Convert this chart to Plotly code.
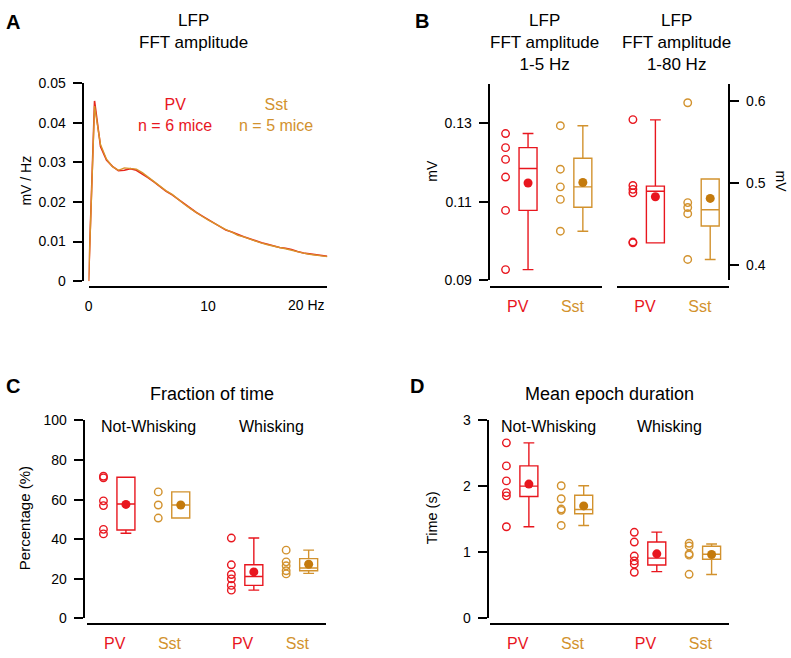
import plotly.graph_objects as go

W, H = 791, 658
FONT = "Liberation Sans, Arial, sans-serif"
RED = "#E8161E"
GOLD = "#D2922E"
GOLD_DARK = "#C47A0C"
LINE_PV = "#E6261C"
LINE_SST = "#D9922A"

# ---------------- Panel A data: LFP FFT amplitude spectrum ----------------
freq_hz = [0, 0.5, 1.0, 1.5, 2.0, 2.5, 3.0, 3.5, 4.0, 4.5, 5.0, 5.5, 6.0, 6.5, 7.0,
           7.5, 8.0, 8.5, 9.0, 9.5, 10.0, 10.5, 11.0, 11.5, 12.0, 12.5, 13.0, 13.5,
           14.0, 14.5, 15.0, 15.5, 16.0, 16.5, 17.0, 17.5, 18.0, 18.5, 19.0, 19.5, 20.0]
fft_pv = [0, 0.0455, 0.0340, 0.0306, 0.0290, 0.0279, 0.0280, 0.0284, 0.0280, 0.0271,
          0.0261, 0.0250, 0.0238, 0.0227, 0.0218, 0.0207, 0.0194, 0.0185, 0.0174,
          0.0165, 0.0156, 0.0147, 0.0138, 0.0129, 0.0124, 0.0117, 0.0112, 0.0107,
          0.0101, 0.0097, 0.0093, 0.0089, 0.0085, 0.0083, 0.0080, 0.0075, 0.0071,
          0.0069, 0.0067, 0.0065, 0.0063]
fft_sst = [0, 0.0442, 0.0345, 0.0308, 0.0289, 0.0280, 0.0286, 0.0284, 0.0283, 0.0274,
           0.0262, 0.0251, 0.0240, 0.0228, 0.0219, 0.0206, 0.0195, 0.0184, 0.0173,
           0.0164, 0.0155, 0.0146, 0.0137, 0.0130, 0.0124, 0.0116, 0.0112, 0.0106,
           0.0100, 0.0096, 0.0092, 0.0088, 0.0085, 0.0082, 0.0078, 0.0074, 0.0071,
           0.0068, 0.0066, 0.0064, 0.0062]
a_xticks = [0, 10]
a_yticks = [0, 0.01, 0.02, 0.03, 0.04, 0.05]
a_yticktext = ["0", "0.01", "0.02", "0.03", "0.04", "0.05"]

# ---------------- Panel B data ----------------
groups = ["PV", "Sst"]
amp_1_5_pv = [0.1274, 0.1238, 0.1208, 0.1163, 0.1078, 0.0927]
amp_1_5_sst = [0.1294, 0.1183, 0.1138, 0.1106, 0.1025]
amp_1_80_pv = [0.5777, 0.4971, 0.4924, 0.4881, 0.4280, 0.4270]
amp_1_80_sst = [0.5983, 0.4762, 0.4702, 0.4626, 0.4067]
# box stats: q1, median, q3, lower whisker, upper whisker
box_1_5_pv = [0.1078, 0.1185, 0.1238, 0.0927, 0.1274]
box_1_5_sst = [0.1086, 0.1138, 0.1211, 0.1025, 0.1294]
box_1_80_pv = [0.4269, 0.4900, 0.4964, 0.4269, 0.5774]
box_1_80_sst = [0.4476, 0.4674, 0.5051, 0.4067, 0.5051]
mean_1_5 = [0.1148, 0.1149]
mean_1_80 = [0.4833, 0.4813]
b_left_ticks = [0.09, 0.11, 0.13]
b_right_ticks = [0.4, 0.5, 0.6]

# ---------------- Panel C data: fraction of time (%) ----------------
states = ["Not-Whisking", "Whisking"]
frac_nw_pv = [71.8, 71.0, 59.4, 57.0, 45.0, 42.7]
frac_nw_sst = [63.9, 57.3, 50.7]
frac_w_pv = [40.6, 27.1, 22.2, 20.0, 16.7, 14.3]
frac_w_sst = [34.5, 28.6, 26.6, 24.1, 22.5]
box_frac_nw_pv = [44.7, 57.8, 71.3, 43.0, 71.3]
box_frac_nw_sst = [50.7, 57.3, 63.9, 50.7, 63.9]
box_frac_w_pv = [16.7, 21.2, 27.1, 14.3, 40.6]
box_frac_w_sst = [24.1, 25.5, 30.2, 22.8, 34.5]
mean_frac = [57.6, 57.3, 23.5, 27.4]
c_yticks = [0, 20, 40, 60, 80, 100]

# ---------------- Panel D data: mean epoch duration (s) ----------------
dur_nw_pv = [2.654, 2.304, 2.077, 1.899, 1.850, 1.381]
dur_nw_sst = [2.003, 1.806, 1.650, 1.630, 1.401]
dur_w_pv = [1.297, 1.149, 0.937, 0.863, 0.814, 0.691]
dur_w_sst = [1.13, 1.09, 0.97, 0.95, 0.66]
box_dur_nw_pv = [1.840, 1.998, 2.304, 1.381, 2.654]
box_dur_nw_sst = [1.579, 1.643, 1.860, 1.401, 2.003]
box_dur_w_pv = [0.800, 0.905, 1.150, 0.700, 1.300]
box_dur_w_sst = [0.888, 0.965, 1.085, 0.656, 1.120]
mean_dur = [2.028, 1.697, 0.970, 0.960]
d_yticks = [0, 1, 2, 3]


def px(x):
    return x / W


def py(y):
    return 1 - y / H


fig = go.Figure()

# Panel A lines
fig.add_trace(go.Scatter(x=freq_hz, y=fft_pv, mode="lines", line=dict(color=LINE_PV, width=1.6),
                         xaxis="x", yaxis="y", showlegend=False, hoverinfo="skip"))
fig.add_trace(go.Scatter(x=freq_hz, y=fft_sst, mode="lines", line=dict(color=LINE_SST, width=1.4),
                         xaxis="x", yaxis="y", showlegend=False, hoverinfo="skip"))


def add_points(xpos, vals, color, xa, ya):
    fig.add_trace(go.Scatter(x=[xpos] * len(vals), y=vals, mode="markers",
                             marker=dict(symbol="circle-open", size=7.5, color=color,
                                         line=dict(width=1.4, color=color)),
                             xaxis=xa, yaxis=ya, showlegend=False, hoverinfo="skip",
                             cliponaxis=False))


def add_box(xpos, stats, color, xa, ya):
    q1, med, q3, lo, hi = stats
    fig.add_trace(go.Box(x=[xpos], q1=[q1], median=[med], q3=[q3], lowerfence=[lo],
                         upperfence=[hi], width=0.64, whiskerwidth=0.6,
                         line=dict(color=color, width=1.4), fillcolor="rgba(0,0,0,0)",
                         boxpoints=False, xaxis=xa, yaxis=ya, showlegend=False,
                         hoverinfo="skip"))


def add_mean(xpos, val, color, xa, ya):
    fig.add_trace(go.Scatter(x=[xpos], y=[val], mode="markers",
                             marker=dict(symbol="circle", size=9, color=color),
                             xaxis=xa, yaxis=ya, showlegend=False, hoverinfo="skip",
                             cliponaxis=False))


# Panel B
b_centers = [1.0, 2.95]
PT, BX = -0.43, 0.37
for xa, ya, pv, sst, bpv, bsst, means in [
    ("x2", "y2", amp_1_5_pv, amp_1_5_sst, box_1_5_pv, box_1_5_sst, mean_1_5),
    ("x3", "y3", amp_1_80_pv, amp_1_80_sst, box_1_80_pv, box_1_80_sst, mean_1_80),
]:
    add_points(b_centers[0] + PT, pv, RED, xa, ya)
    add_box(b_centers[0] + BX, bpv, RED, xa, ya)
    add_mean(b_centers[0] + BX, means[0], RED, xa, ya)
    add_points(b_centers[1] + PT, sst, GOLD, xa, ya)
    add_box(b_centers[1] + BX, bsst, GOLD, xa, ya)
    add_mean(b_centers[1] + BX, means[1], GOLD_DARK, xa, ya)

# Panels C and D
cd_centers = [1.0, 2.95, 5.55, 7.5]
PT2, BX2 = -0.4, 0.4
for xa, ya, pts, boxes, means in [
    ("x4", "y4", [frac_nw_pv, frac_nw_sst, frac_w_pv, frac_w_sst],
     [box_frac_nw_pv, box_frac_nw_sst, box_frac_w_pv, box_frac_w_sst], mean_frac),
    ("x5", "y5", [dur_nw_pv, dur_nw_sst, dur_w_pv, dur_w_sst],
     [box_dur_nw_pv, box_dur_nw_sst, box_dur_w_pv, box_dur_w_sst], mean_dur),
]:
    for i, c in enumerate(cd_centers):
        col = RED if i % 2 == 0 else GOLD
        mcol = RED if i % 2 == 0 else GOLD_DARK
        add_points(c + PT2, pts[i], col, xa, ya)
        add_box(c + BX2, boxes[i], col, xa, ya)
        add_mean(c + BX2, means[i], mcol, xa, ya)

tickfont = dict(size=14, color="black", family=FONT)
ax_common = dict(showline=True, linecolor="black", linewidth=2, showgrid=False,
                 zeroline=False, tickfont=tickfont, fixedrange=True)
yax = dict(ax_common, ticks="outside", ticklen=9, tickwidth=2, tickcolor="black",
           ticklabelstandoff=4)
xax = dict(ax_common, ticks="")


def cat_text(names):
    out = []
    for n in names:
        col = RED if n == "PV" else GOLD
        out.append('<span style="color:%s">%s</span>' % (col, n))
    return out


catfont = dict(size=16, family=FONT)

fig.update_layout(
    width=W, height=H, margin=dict(l=0, r=0, t=0, b=0),
    paper_bgcolor="white", plot_bgcolor="rgba(0,0,0,0)",
    font=dict(family=FONT, color="black"),
    boxmode="overlay",
    xaxis=dict(xax, domain=[px(85), px(325)], range=[0, 20], anchor="free",
               position=py(286), tickvals=a_xticks, ticktext=[str(t) for t in a_xticks],
               ticklabelstandoff=6),
    yaxis=dict(yax, domain=[py(280), py(77)], range=[0, 0.05], anchor="free",
               position=px(79), tickvals=a_yticks, ticktext=a_yticktext),
    xaxis2=dict(xax, domain=[px(488), px(601)], range=[0, 4], anchor="free",
                position=py(286), tickvals=b_centers, ticktext=cat_text(groups),
                tickfont=catfont, ticklabelstandoff=5),
    yaxis2=dict(yax, domain=[py(279), py(78)], range=[0.09, 0.14], anchor="free",
                position=px(487), tickvals=b_left_ticks,
                ticktext=["%.2f" % t for t in b_left_ticks]),
    xaxis3=dict(xax, domain=[px(616), px(729)], range=[0, 4], anchor="free",
                position=py(286), tickvals=b_centers, ticktext=cat_text(groups),
                tickfont=catfont, ticklabelstandoff=5),
    yaxis3=dict(yax, domain=[py(279), py(78)], range=[0.3813, 0.6211], anchor="free",
                position=px(729), side="right", tickvals=b_right_ticks,
                ticktext=["%.1f" % t for t in b_right_ticks]),
    xaxis4=dict(xax, domain=[px(83), px(324)], range=[0, 8.53], anchor="free",
                position=py(631.7), tickvals=cd_centers,
                ticktext=cat_text(groups + groups), tickfont=catfont, ticklabelstandoff=4),
    yaxis4=dict(yax, domain=[py(625.7), py(422.7)], range=[0, 100], anchor="free",
                position=px(80), tickvals=c_yticks, ticktext=[str(t) for t in c_yticks]),
    xaxis5=dict(xax, domain=[px(488), px(729)], range=[0, 8.53], anchor="free",
                position=py(631.7), tickvals=cd_centers,
                ticktext=cat_text(groups + groups), tickfont=catfont, ticklabelstandoff=4),
    yaxis5=dict(yax, domain=[py(625), py(422.3)], range=[0, 3], anchor="free",
                position=px(486), tickvals=d_yticks, ticktext=[str(t) for t in d_yticks]),
)

ann = []


def add_text(x, y, text, size=16, color="black", bold=False, angle=0, xanchor="center"):
    if bold:
        text = "<b>%s</b>" % text
    ann.append(dict(x=px(x), y=py(y), xref="paper", yref="paper", text=text,
                    showarrow=False, xanchor=xanchor, yanchor="middle", textangle=angle,
                    font=dict(size=size, color=color, family=FONT)))


LET = 20
# Panel letters
add_text(9, 14, "A", LET, bold=True)
add_text(420, 13, "B", LET, bold=True)
add_text(9, 387, "C", LET, bold=True)
add_text(415, 387, "D", LET, bold=True)
# Titles
add_text(190, 24.5, "LFP<br>FFT amplitude", 17)
add_text(543, 35, "LFP<br>FFT amplitude<br>1-5 Hz", 17)
add_text(676, 35, "LFP<br>FFT amplitude<br>1-80 Hz", 17)
add_text(209, 396, "Fraction of time", 18)
add_text(609, 396, "Mean epoch duration", 18)
# Panel A legend text
add_text(172, 110, "PV<br>n = 6 mice", 16, color=RED)
add_text(273, 110, "Sst<br>n = 5 mice", 16, color=GOLD)
# Axis titles
add_text(22, 177, "mV / Hz", 14, angle=-90)
add_text(430, 167, "mV", 14, angle=-90)
add_text(781, 178, "mV", 14, angle=90)
add_text(20, 523, "Percentage (%)", 15, angle=-90)
add_text(430, 522, "Time (s)", 14.5, angle=-90)
# State labels
add_text(145, 429, states[0], 16)
add_text(269, 429, states[1], 16)
add_text(547, 429, states[0], 16)
add_text(669, 429, states[1], 16)

# "20 Hz" tick label at the end of the x axis of panel A
ann.append(dict(x=20, y=py(304), xref="x", yref="paper", text="20 Hz", showarrow=False,
                xanchor="right", yanchor="middle", font=dict(size=14, color="black", family=FONT)))

fig.update_layout(annotations=ann)
fig.write_html("out.html", config={"displayModeBar": False},
               post_script="document.body.style.margin='0';document.body.style.overflow='hidden';")
